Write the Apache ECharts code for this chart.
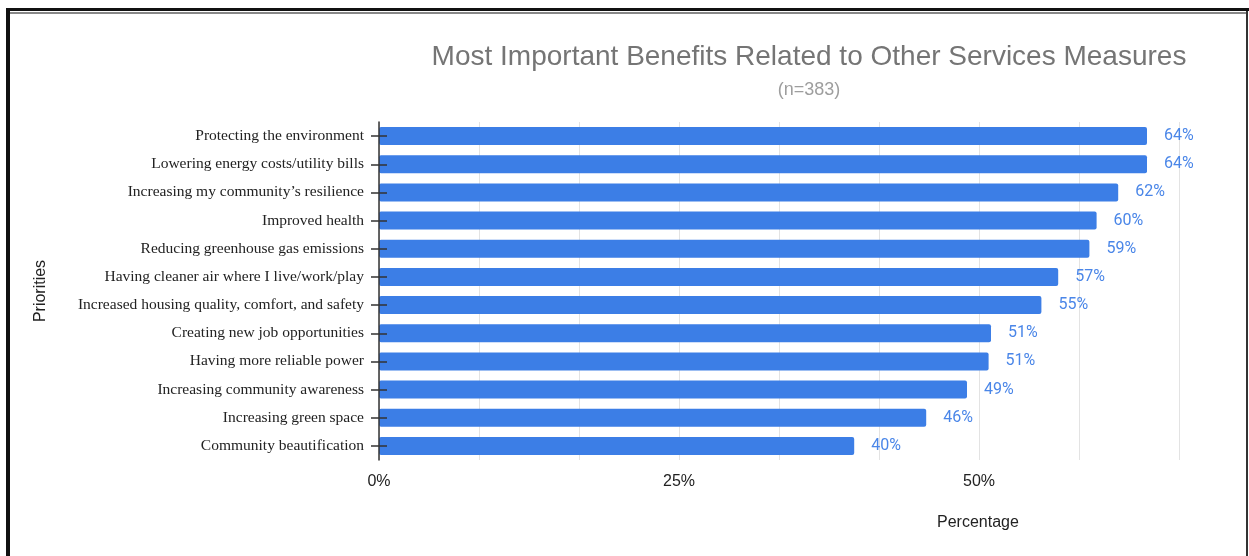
<!DOCTYPE html>
<html>
<head>
<meta charset="utf-8">
<script src="https://cdn.jsdelivr.net/npm/echarts@6/dist/echarts.min.js"></script>
<style>
html,body{margin:0;padding:0;background:#fff;}
#c{width:1249px;height:556px;}
</style>
</head>
<body>
<div id="c"></div>
<script>
const categories = [
  "Protecting the environment",
  "Lowering energy costs/utility bills",
  "Increasing my community\u2019s resilience",
  "Improved health",
  "Reducing greenhouse gas emissions",
  "Having cleaner air where I live/work/play",
  "Increased housing quality, comfort, and safety",
  "Creating new job opportunities",
  "Having more reliable power",
  "Increasing community awareness",
  "Increasing green space",
  "Community beautification"
];
const values = [64.0, 64.0, 61.6, 59.8, 59.2, 56.6, 55.2, 51.0, 50.8, 49.0, 45.6, 39.6];
const xTickLabels = [0, 25, 50];
const titleText = "Most Important Benefits Related to Other Services Measures";
const subtitleText = "(n=383)";
const yName = "Priorities";
const xName = "Percentage";

const chart = echarts.init(document.getElementById('c'));
const option = {
  animation: false,
  title: {
    text: titleText,
    subtext: subtitleText,
    left: 804,
    textAlign: 'center',
    top: 38,
    itemGap: 10,
    textStyle: {fontFamily: 'Liberation Sans, Arial', fontSize: 28, fontWeight: 'normal', color: '#757575'},
    subtextStyle: {fontFamily: 'Liberation Sans, Arial', fontSize: 18, color: '#9e9e9e'}
  },
  grid: {left: 379, right: 70, top: 122, bottom: 96, containLabel: false},
  xAxis: {
    type: 'value',
    min: 0,
    max: 200/3,
    interval: 25/3,
    axisLine: {show: false},
    axisTick: {show: false},
    splitLine: {show: true, lineStyle: {color: '#e3e3e3', width: 1}},
    axisLabel: {
      margin: 14,
      fontFamily: 'Liberation Sans, Arial',
      fontSize: 16,
      color: '#222',
      formatter: function (v) {
        for (const t of xTickLabels) { if (Math.abs(v - t) < 1e-6) return t + '%'; }
        return '';
      }
    }
  },
  yAxis: [{
    type: 'category',
    data: categories,
    inverse: true,
    z: 10,
    name: yName,
    nameLocation: 'middle',
    nameRotate: 90,
    nameGap: 330,
    nameTextStyle: {fontFamily: 'Liberation Sans, Arial', fontSize: 16, color: '#222'},
    axisLine: {show: true, lineStyle: {color: '#333', width: 1.5}},
    axisTick: {show: true, alignWithLabel: true, length: 8, lineStyle: {color: '#333', width: 1.5}},
    axisLabel: {margin: 15, fontFamily: 'Liberation Serif, Times New Roman, serif', fontSize: 15.5, color: '#222'},
    splitLine: {show: false}
  }, {
    type: 'category',
    data: categories,
    inverse: true,
    position: 'left',
    z: 10,
    axisLine: {show: false},
    axisTick: {show: true, inside: true, alignWithLabel: true, length: 8, lineStyle: {color: '#333', width: 1.5}},
    axisLabel: {show: false},
    splitLine: {show: false}
  }],
  series: [{
    type: 'bar',
    data: values,
    yAxisIndex: 0,
    barWidth: 18,
    itemStyle: {color: '#3c7ee6', borderRadius: 2},
    label: {
      show: true,
      position: 'right',
      distance: 17,
      fontFamily: 'Roboto, Liberation Sans, Arial',
      fontSize: 16,
      color: '#4a86e8',
      formatter: function (p) { return Math.round(p.value) + '%'; }
    }
  }],
  graphic: [
    {type: 'text', left: 937, top: 515, style: {text: xName, font: '16px "Liberation Sans", Arial', fill: '#222'}},
    {type: 'rect', shape: {x: 6, y: 8, width: 4, height: 548}, style: {fill: '#111'}},
    {type: 'rect', shape: {x: 6, y: 8, width: 1243, height: 3}, style: {fill: '#111'}},
    {type: 'rect', shape: {x: 10, y: 12, width: 1237, height: 2}, style: {fill: '#888'}},
    {type: 'rect', shape: {x: 1246, y: 11, width: 2, height: 545}, style: {fill: '#333'}}
  ]
};
chart.setOption(option);
</script>
</body>
</html>
